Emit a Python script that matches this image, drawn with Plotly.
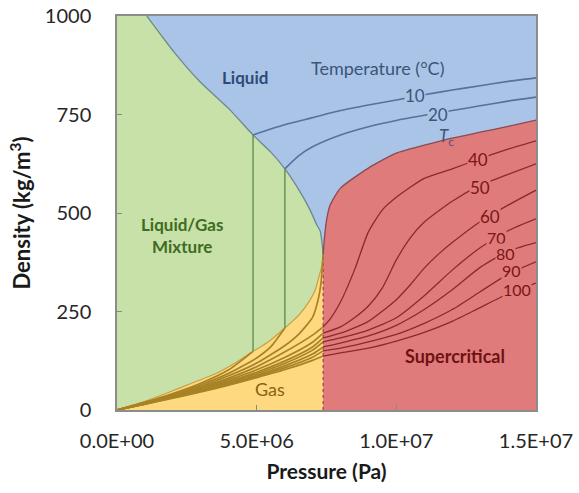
import plotly.graph_objects as go

# ---------------- data (pressure in MPa, density in kg/m3) ----------------
P_TICKS = [0, 5e6, 1e7, 1.5e7]
P_TICK_TEXT = ["0.0E+00", "5.0E+06", "1.0E+07", "1.5E+07"]
RHO_TICKS = [0, 250, 500, 750, 1000]

PC = 7.38          # critical pressure (MPa)
RHOC = 395         # density where the dome closes

# saturation dome
LIQ_P = [1.07, 2.08, 2.97, 4.0, 4.87, 5.5, 6.01, 6.5, 6.91, 7.15, 7.27, 7.34, 7.38]
LIQ_RHO = [1000, 905, 833, 765, 698, 655, 612, 560, 508, 470, 455, 425, 395]
GAS_P = [0, 1.0, 1.79, 2.5, 3.58, 4.2, 4.87, 5.4, 6.01, 6.5, 6.91, 7.1, 7.23, 7.33, 7.38]
GAS_RHO = [0, 22, 43, 63, 94, 118, 149, 172, 208, 240, 279, 305, 338, 365, 395]

# isotherms: gas parts
GAS_P_GRID = [0, 1, 2, 3, 4, 5, 6, 7, 7.38]
T10_GAS_P = [0, 1, 2, 3, 4, 4.87]
T10_GAS_RHO = [0, 20, 42, 68, 102, 149]
T20_GAS_P = [0, 1, 2, 3, 4, 5, 5.5, 6.01]
T20_GAS_RHO = [0, 19, 40, 64, 93, 132, 160, 208]
TC_GAS_P = [0, 1, 2, 3, 4, 5, 6, 6.5, 7, 7.2, 7.3, 7.38]
TC_GAS_RHO = [0, 18, 38, 60, 87, 119, 163, 192, 235, 280, 320, 395]
T40_GAS_RHO = [0, 17, 36, 57, 81, 110, 147, 190, 211]
T50_GAS_RHO = [0, 17, 35, 55, 77, 102, 133, 172, 195]
T60_GAS_RHO = [0, 16, 34, 53, 73, 96, 124, 160, 183]
T70_GAS_RHO = [0, 16, 33, 51, 70, 92, 118, 152, 173]
T80_GAS_RHO = [0, 15, 32, 49, 68, 88, 112, 142, 160]
T90_GAS_RHO = [0, 15, 31, 47, 65, 85, 107, 134, 150]
T100_GAS_RHO = [0, 15, 30, 46, 63, 82, 102, 126, 137]

# isotherms: two-phase (vertical) parts
T10_MIX_P = [4.87, 4.87]
T10_MIX_RHO = [149, 698]
T20_MIX_P = [6.01, 6.01]
T20_MIX_RHO = [208, 612]

# isotherms: liquid parts
T10_LIQ_P = [4.87, 5.5, 6, 7, 8, 9, 10, 11, 12, 13, 14, 15]
T10_LIQ_RHO = [698, 713, 724, 742, 760, 774, 787, 800, 812, 823, 834, 843]
T20_LIQ_P = [6.01, 6.5, 7, 8, 9, 10, 11, 12, 13, 14, 15]
T20_LIQ_RHO = [612, 645, 668, 698, 719, 735, 748, 760, 772, 784, 794]

# isotherms: supercritical parts
TC_SC_P = [7.38, 7.42, 7.49, 7.63, 8, 9, 10, 11, 12, 13, 14, 15]
TC_SC_RHO = [395, 431, 477, 520, 563, 614, 652, 672, 690, 705, 720, 736]
T40_SC_P = [7.38, 7.6, 8, 8.5, 9, 9.5, 10, 11, 12, 13, 14, 15]
T40_SC_RHO = [211, 228, 274, 355, 452, 508, 540, 588, 612, 638, 662, 683]
T50_SC_P = [7.38, 8, 8.5, 9, 9.5, 10, 10.5, 11, 12, 13, 14, 15]
T50_SC_RHO = [195, 211, 234, 264, 310, 381, 437, 477, 530, 570, 598, 625]
T60_SC_P = [7.38, 8, 9, 10, 10.5, 11, 11.5, 12, 13, 14, 15]
T60_SC_RHO = [183, 195, 225, 280, 318, 360, 395, 425, 478, 520, 558]
SC_P_GRID = [7.38, 8, 9, 10, 11, 12, 13, 14, 15]
T70_SC_RHO = [173, 183, 203, 234, 290, 355, 412, 455, 485]
T80_SC_RHO = [160, 170, 188, 215, 255, 305, 362, 403, 425]
T90_SC_RHO = [150, 157, 173, 192, 220, 255, 300, 345, 376]
T100_SC_RHO = [137, 145, 157, 175, 197, 225, 260, 295, 322]

# labels (P in MPa, rho)
ISO_LABELS = ["10", "20", "40", "50", "60", "70", "80", "90", "100"]
ISO_LABEL_P = [10.67, 11.49, 12.93, 13.0, 13.35, 13.6, 13.9, 14.14, 14.32]
ISO_LABEL_RHO = [797, 751, 637, 566, 490, 437, 398, 355, 307]

# ---------------- colours ----------------
BLUE = "#aac4e7"
GREEN = "#c7e1a8"
YELLOW = "#fed97f"
RED = "#e07b7b"
BLUE_LINE = "#56719a"
RED_LINE = "#8a2a2e"
GOLD_LINE = "#a88226"
GREEN_LINE = "#6f9a5a"
FONT = "Lato"

M = 1e6


def mpa(arr):
    return [p * M for p in arr]


fig = go.Figure()

# regions
fig.add_trace(go.Scatter(x=mpa([0] + LIQ_P), y=[1000] + LIQ_RHO, mode="lines",
                         line=dict(width=0, shape="spline", smoothing=0.5),
                         fill="tozeroy", fillcolor=GREEN, hoverinfo="skip"))
fig.add_trace(go.Scatter(x=mpa(GAS_P), y=GAS_RHO, mode="lines",
                         line=dict(width=0, shape="spline", smoothing=0.5),
                         fill="tozeroy", fillcolor=YELLOW, hoverinfo="skip"))
fig.add_trace(go.Scatter(x=mpa(TC_SC_P), y=TC_SC_RHO, mode="lines",
                         line=dict(width=0, shape="spline", smoothing=0.6),
                         fill="tozeroy", fillcolor=RED, hoverinfo="skip"))

# dome boundaries
fig.add_trace(go.Scatter(x=mpa(LIQ_P), y=LIQ_RHO, mode="lines",
                         line=dict(color="#6a8a92", width=1.3, shape="spline", smoothing=0.5),
                         hoverinfo="skip"))
fig.add_trace(go.Scatter(x=mpa(GAS_P), y=GAS_RHO, mode="lines",
                         line=dict(color="#c7a046", width=1.2, shape="spline", smoothing=0.5),
                         hoverinfo="skip"))

# critical-pressure dotted line
fig.add_trace(go.Scatter(x=mpa([PC, PC]), y=[0, RHOC], mode="lines",
                         line=dict(color="#b03a3a", width=1.2, dash="dot"),
                         hoverinfo="skip"))

# gas isotherms
gas_sets = [
    (T10_GAS_P, T10_GAS_RHO), (T20_GAS_P, T20_GAS_RHO), (TC_GAS_P, TC_GAS_RHO),
    (GAS_P_GRID, T40_GAS_RHO), (GAS_P_GRID, T50_GAS_RHO), (GAS_P_GRID, T60_GAS_RHO),
    (GAS_P_GRID, T70_GAS_RHO), (GAS_P_GRID, T80_GAS_RHO), (GAS_P_GRID, T90_GAS_RHO),
    (GAS_P_GRID, T100_GAS_RHO),
]
for px, ry in gas_sets:
    fig.add_trace(go.Scatter(x=mpa(px), y=ry, mode="lines",
                             line=dict(color=GOLD_LINE, width=1.7, shape="spline", smoothing=0.6),
                             hoverinfo="skip"))

# two-phase verticals
for px, ry in [(T10_MIX_P, T10_MIX_RHO), (T20_MIX_P, T20_MIX_RHO)]:
    fig.add_trace(go.Scatter(x=mpa(px), y=ry, mode="lines",
                             line=dict(color=GREEN_LINE, width=1.6), hoverinfo="skip"))

# liquid isotherms
for px, ry in [(T10_LIQ_P, T10_LIQ_RHO), (T20_LIQ_P, T20_LIQ_RHO)]:
    fig.add_trace(go.Scatter(x=mpa(px), y=ry, mode="lines",
                             line=dict(color=BLUE_LINE, width=1.6, shape="spline", smoothing=0.6),
                             hoverinfo="skip"))

# supercritical isotherms
sc_sets = [
    (TC_SC_P, TC_SC_RHO), (T40_SC_P, T40_SC_RHO), (T50_SC_P, T50_SC_RHO),
    (T60_SC_P, T60_SC_RHO), (SC_P_GRID, T70_SC_RHO), (SC_P_GRID, T80_SC_RHO),
    (SC_P_GRID, T90_SC_RHO), (SC_P_GRID, T100_SC_RHO),
]
for i, (px, ry) in enumerate(sc_sets):
    fig.add_trace(go.Scatter(x=mpa(px), y=ry, mode="lines",
                             line=dict(color=("#8a4a52" if i == 0 else RED_LINE),
                                       width=1.3, shape="spline", smoothing=0.6),
                             hoverinfo="skip"))

ann = []
for lab, p, r in zip(ISO_LABELS, ISO_LABEL_P, ISO_LABEL_RHO):
    blue = lab in ("10", "20")
    tight = lab in ("70", "80", "90", "100")
    ann.append(dict(x=p * M, y=r, text=lab, showarrow=False,
                    font=dict(family=FONT, size=(16 if tight else 17),
                              color=("#3b5578" if blue else "#7a1518")),
                    bgcolor=(BLUE if blue else RED), borderpad=0))
ann += [
    dict(x=11.78 * M, y=693, text="<i>T</i><sub>c</sub>", showarrow=False,
         font=dict(family=FONT, size=17, color="#3b5578")),
    dict(x=9.34 * M, y=868, text="Temperature (°C)", showarrow=False,
         font=dict(family=FONT, size=18, color="#3b5578")),
    dict(x=4.58 * M, y=843, text="<b>Liquid</b>", showarrow=False,
         font=dict(family=FONT, size=17, color="#2e4a78")),
    dict(x=2.33 * M, y=444, text="<b>Liquid/Gas<br>Mixture</b>", showarrow=False,
         font=dict(family=FONT, size=17, color="#3f6b22")),
    dict(x=5.48 * M, y=53, text="Gas", showarrow=False,
         font=dict(family=FONT, size=18, color="#8a6410")),
    dict(x=12.1 * M, y=137, text="<b>Supercritical</b>", showarrow=False,
         font=dict(family=FONT, size=18, color="#6e1214")),
]

fig.update_layout(
    width=579, height=493,
    margin=dict(l=117, r=43, t=16, b=83, autoexpand=False),
    paper_bgcolor="white", plot_bgcolor=BLUE,
    showlegend=False,
    annotations=ann,
    font=dict(family=FONT, color="#222"),
)
fig.update_xaxes(
    range=[0, 1.5e7], tickvals=P_TICKS, ticktext=P_TICK_TEXT, automargin=False,
    ticks="inside", ticklen=5, tickcolor="#888", showgrid=False, zeroline=False,
    showline=True, linecolor="#8c8c8c", linewidth=1.5, mirror=True,
    tickfont=dict(family=FONT, size=20, color="#262626"), ticklabelstandoff=12,
    title=dict(text="<b>Pressure (Pa)</b>", font=dict(family=FONT, size=21, color="#1a1a1a"), standoff=14),
)
fig.update_yaxes(
    range=[0, 1000], tickvals=RHO_TICKS, automargin=False,
    ticks="inside", ticklen=5, tickcolor="#888", showgrid=False, zeroline=False,
    showline=True, linecolor="#8c8c8c", linewidth=1.5, mirror=True,
    tickfont=dict(family=FONT, size=20, color="#262626"), ticklabelstandoff=20,
    title=dict(text="<b>Density (kg/m<sup>3</sup>)</b>", font=dict(family=FONT, size=22, color="#1a1a1a"), standoff=8),
)

fig.write_html("out.html")
